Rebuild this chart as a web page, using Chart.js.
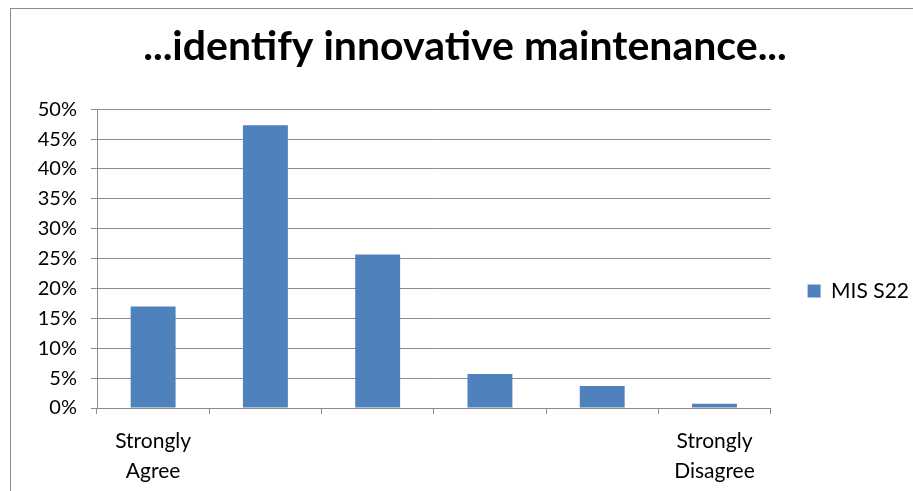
<!DOCTYPE html>
<html>
<head>
<meta charset="utf-8">
<script src="https://cdn.jsdelivr.net/npm/chart.js@4/dist/chart.umd.min.js"></script>
<style>
  html, body { margin: 0; padding: 0; background: #fff; overflow: hidden; }
  #frame { position: absolute; left: 10px; top: 8px; width: 1000px; height: 600px; border: 1px solid #8c8c8c; }
  #wrap { position: absolute; left: 11px; top: 9px; width: 930px; height: 482px; }
</style>
</head>
<body>
<div id="frame"></div>
<div id="wrap"><canvas id="chart"></canvas></div>
<script>
const categories = [["Strongly", "Agree"], "", "", "", "", ["Strongly", "Disagree"]];
const seriesName = "MIS S22";
const values = [0.17, 0.473, 0.257, 0.057, 0.037, 0.007];
const titleText = "...identify innovative maintenance...";

const grey = "#8c8c8c";
const fontFamily = "Lato, 'Open Sans', sans-serif";

let ctx = document.getElementById('chart').getContext('2d');
let myChart = new Chart(ctx, {
    type: 'bar',
    data: {
        labels: categories,
        datasets: [{
            label: seriesName,
            data: values,
            backgroundColor: "#4f81bd",
            categoryPercentage: 1.0,
            barPercentage: 0.4,
        }]
    },
    options: {
        responsive: true,
        maintainAspectRatio: false,
        animation: false,
        layout: { padding: { left: 0, right: 22, top: 0, bottom: 0 } },
        plugins: {
            title: {
                display: true,
                text: titleText,
                color: "#000",
                font: { family: fontFamily, size: 41, weight: 'bold' },
                padding: { top: 13, bottom: 38 },
            },
            legend: {
                position: 'right',
                // blank legend title only pushes the entry down
                title: { display: true, text: ' ', font: { size: 10 }, padding: { top: 35, bottom: 35 } },
                labels: {
                    color: "#000",
                    font: { family: fontFamily, size: 21 },
                    boxWidth: 13,
                    boxHeight: 13,
                    padding: 37,
                },
            },
            tooltip: { enabled: false },
        },
        scales: {
            x: {
                grid: { display: true, drawOnChartArea: false, tickLength: 6, color: grey, offset: true },
                border: { color: grey },
                ticks: { color: "#000", font: { family: fontFamily, size: 21, lineHeight: 1.43 }, padding: 12, maxRotation: 0, autoSkip: false },
                afterFit: function (axis) { axis.height = 83; },
            },
            y: {
                min: 0,
                max: 0.5,
                ticks: {
                    stepSize: 0.05,
                    color: "#000",
                    font: { family: fontFamily, size: 20 },
                    padding: 14,
                    callback: function (v) { return Math.round(v * 100) + "%"; },
                },
                grid: { color: grey, tickLength: 6 },
                border: { color: grey },
                afterFit: function (axis) { axis.width = 86; },
            }
        }
    }
});
</script>
</body>
</html>
